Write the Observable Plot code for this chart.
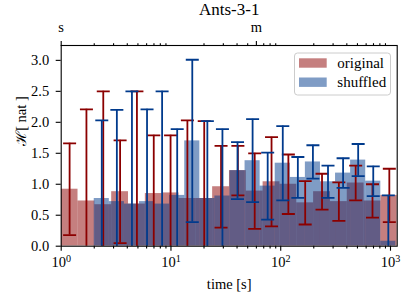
<!DOCTYPE html>
<html><head><meta charset="utf-8">
<script src="https://cdn.jsdelivr.net/npm/d3@7"></script>
<script src="https://cdn.jsdelivr.net/npm/@observablehq/plot@0.6"></script>
<style>
html,body{margin:0;padding:0;background:#fff;}
svg{font-family:"Liberation Serif",serif;}
</style></head><body><div id="chart"></div>
<script>
// ---- data ----
const title = "Ants-3-1";
const xLabel = "time [s]";
const yLabel = "ℋ[ nat ]";
const seriesNames = ["original", "shuffled"];

// bin edges (seconds), values and error half-widths
const redEdges = [1, 1.423, 2.026, 2.884, 4.104, 5.842, 8.314, 11.83, 16.84, 23.97, 34.12, 48.56, 69.1, 98.4, 140.0, 199.3, 283.7, 403.8, 574.7, 817.9, 1164];
const redValues = [0.92, 0.73, 0.67, 0.88, 0.68, 0.85, 0.86, 0.77, 0.77, 0.96, 1.22, 0.89, 1.04, 1.00, 0.70, 0.88, 0.72, 1.02, 0.73, 0.82];
const redErrors = [0.74, 1.48, 1.83, 0.83, 1.82, 0.94, 0.93, 1.26, 1.25, 0.66, 0.40, 0.61, 0.72, 0.48, 0.35, 0.29, 0.31, 0.28, 0.27, 0.43];

const blueEdges = [2.0, 2.744, 3.765, 5.167, 7.090, 9.727, 13.35, 18.32, 25.13, 34.49, 47.32, 64.93, 89.09, 122.3, 167.7, 230.1, 315.8, 433.3, 594.6, 815.8, 1119];
const blueValues = [0.77, 0.72, 0.68, 0.72, 0.68, 0.82, 1.70, 0.77, 0.81, 1.22, 1.38, 0.97, 1.34, 1.11, 1.36, 1.04, 1.18, 1.39, 1.05, 0.08];
const blueErrors = [1.26, 1.48, 1.82, 1.49, 1.82, 1.07, 1.31, 1.25, 1.08, 0.46, 0.67, 0.54, 0.60, 0.33, 0.27, 0.26, 0.24, 0.26, 0.24, 0.74];

// ticks
const yTicks = [0, 0.5, 1.0, 1.5, 2.0, 2.5, 3.0];
const xMajorTicks = [1, 10, 100, 1000];
const xMinorTicks = [2, 3, 4, 5, 6, 7, 8, 9, 20, 30, 40, 50, 60, 70, 80, 90, 200, 300, 400, 500, 600, 700, 800, 900];
const topMajorTicks = [1, 60];
const topTickLabels = ["s", "m"];
const topMinorTicks = [2, 3, 4, 5, 6, 7, 8, 9, 20, 30, 40, 50, 70, 80, 90, 200, 300, 400, 500, 600, 700, 800, 900];

// ---- build tables ----
const RED = "#8b0000", BLUE = "#003a8c";
const toRows = (edges, vals, errs) => vals.map((v, i) => ({
  x1: edges[i], x2: edges[i + 1], v, e: errs[i], c: Math.sqrt(edges[i] * edges[i + 1])
}));
const red = toRows(redEdges, redValues, redErrors);
const blue = toRows(blueEdges, blueValues, blueErrors);
const topLabels = topMajorTicks.map((t, i) => ({t, label: topTickLabels[i]}));

const cap = {draw(ctx, size) { const r = Math.sqrt(size / Math.PI); ctx.moveTo(-r, 0); ctx.lineTo(r, 0); }};

const errMarks = (rows, color) => [
  Plot.ruleX(rows, {x: "c", y1: d => d.v - d.e, y2: d => d.v + d.e, stroke: color, strokeWidth: 1.8, clip: true}),
  Plot.dot(rows, {x: "c", y: d => d.v + d.e, symbol: cap, r: 6.5, stroke: color, strokeWidth: 1.8, clip: true}),
  Plot.dot(rows, {x: "c", y: d => d.v - d.e, symbol: cap, r: 6.5, stroke: color, strokeWidth: 1.8, clip: true})
];

const tk = {strokeWidth: 1.1, label: null};

const chart = Plot.plot({
  width: 406, height: 308,
  marginLeft: 60.7, marginRight: 9.3, marginTop: 45, marginBottom: 62.3,
  style: {fontFamily: '"Liberation Serif", serif', fontSize: "14.5px", background: "white", color: "black", overflow: "visible"},
  x: {type: "log", domain: [1, 1151]},
  y: {domain: [0, 3.24]},
  marks: [
    Plot.rectY(red, {x1: "x1", x2: "x2", y: "v", fill: RED, fillOpacity: 0.5, clip: true}),
    Plot.rectY(blue, {x1: "x1", x2: "x2", y: "v", fill: BLUE, fillOpacity: 0.5, clip: true}),
    ...errMarks(red, RED),
    ...errMarks(blue, BLUE),
    Plot.axisY({...tk, ticks: yTicks, tickFormat: d3.format(".1f"), tickSize: 5, tickPadding: 7}),
    Plot.axisX({...tk, ticks: xMajorTicks, tickFormat: d => "10^" + Math.round(Math.log10(d)), tickSize: 5, tickPadding: 6}),
    Plot.axisX({...tk, ticks: xMinorTicks, tickFormat: () => "", tickSize: 2.8}),
    Plot.axisX({...tk, anchor: "top", ticks: topMajorTicks, tickFormat: () => "", tickSize: 5}),
    Plot.axisX({...tk, anchor: "top", ticks: topMinorTicks, tickFormat: () => "", tickSize: 2.8}),
    Plot.text(topLabels, {x: "t", text: "label", frameAnchor: "top", lineAnchor: "bottom", dy: -14}),
    Plot.frame({stroke: "black", strokeWidth: 1.1}),
    Plot.text([title], {frameAnchor: "top", lineAnchor: "bottom", dy: -31, fontSize: 17}),
    Plot.text([xLabel], {frameAnchor: "bottom", lineAnchor: "bottom", dy: 42.3}),
    Plot.text([yLabel], {frameAnchor: "left", dx: -39.5, rotate: -90})
  ]
});

// superscript exponents on the log tick labels
d3.select(chart).selectAll("text").each(function () {
  const m = /^10\^(\d)$/.exec(this.textContent);
  if (m) {
    const s = d3.select(this);
    s.text(null);
    s.append("tspan").text("10");
    s.append("tspan").attr("dy", "-0.5em").attr("font-size", "70%").text(m[1]);
  }
});

// legend inside the axes (upper right)
const svg = d3.select(chart);
const lg = svg.append("g");
lg.append("rect").attr("x", 294.5).attr("y", 53).attr("width", 96).attr("height", 42)
  .attr("rx", 3).attr("fill", "white").attr("fill-opacity", 0.8).attr("stroke", "#cccccc").attr("stroke-width", 1);
[RED, BLUE].forEach((col, i) => {
  const cy = 63 + i * 19.2;
  lg.append("rect").attr("x", 299).attr("y", cy - 4.7).attr("width", 27.7).attr("height", 9.4)
    .attr("fill", col).attr("fill-opacity", 0.5);
  lg.append("text").attr("x", 337.3).attr("y", cy).attr("dy", "0.32em")
    .attr("text-anchor", "start").attr("font-size", 15).attr("fill", "black").text(seriesNames[i]);
});

document.getElementById("chart").appendChild(chart);
</script>
</body></html>
